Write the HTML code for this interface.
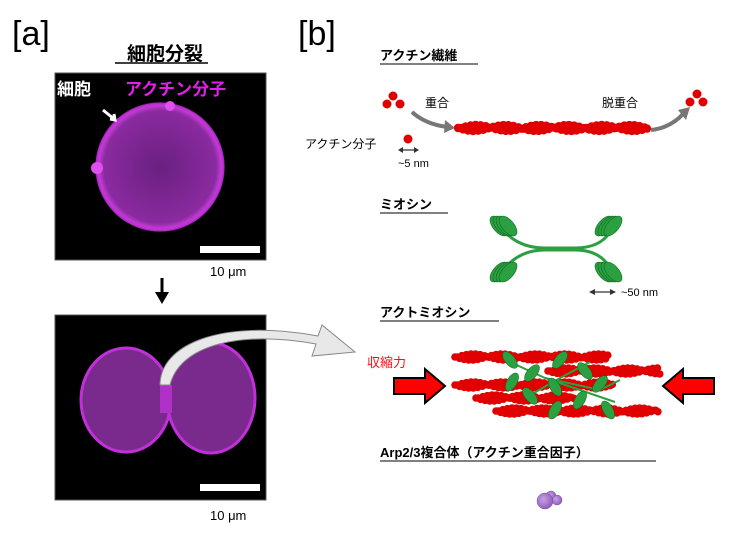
<!DOCTYPE html>
<html><head><meta charset="utf-8"><style>
html,body{margin:0;padding:0;background:#fff;width:750px;height:535px;overflow:hidden}
svg{display:block}
text{font-family:"Liberation Sans","Noto Sans CJK JP",sans-serif}
</style></head><body>
<svg id="s" width="750" height="535" viewBox="0 0 750 535" xmlns="http://www.w3.org/2000/svg">
<defs>
<radialGradient id="cell" cx="50%" cy="50%" r="50%">
<stop offset="0" stop-color="#6a2080"/><stop offset="0.85" stop-color="#8a2aa0"/><stop offset="0.95" stop-color="#d040e0"/><stop offset="1" stop-color="#000" stop-opacity="0"/>
</radialGradient>
<radialGradient id="pur" cx="40%" cy="40%" r="60%"><stop offset="0" stop-color="#c7a0e6"/><stop offset="1" stop-color="#9060b8"/></radialGradient>
</defs>
<text x="12" y="45" font-size="34">[a]</text>
<text x="298" y="45" font-size="34">[b]</text>
<text x="165" y="60" font-size="19" font-weight="bold" text-anchor="middle">細胞分裂</text>
<line x1="115" y1="63" x2="208" y2="63" stroke="#000" stroke-width="1.5"/>
<rect x="55" y="73" width="211" height="187" fill="#000" stroke="#555"/>
<circle cx="160" cy="167" r="66" fill="url(#cell)"/>
<circle cx="160" cy="167" r="63" fill="none" stroke="#c030d8" stroke-width="3" opacity="0.8"/>
<circle cx="170" cy="106" r="5" fill="#e050f0"/><circle cx="97" cy="168" r="6" fill="#e050f0"/>
<text x="57" y="95" font-size="17" font-weight="bold" fill="#fff">細胞</text>
<text x="125" y="95" font-size="17" font-weight="bold" fill="#e020e8">アクチン分子</text>
<path d="M103 110 L114 119 M110 119 L115 120 L114 114" stroke="#fff" stroke-width="3" fill="#fff"/>
<rect x="200" y="246" width="60" height="7" fill="#fff"/>
<text x="210" y="276" font-size="13">10 μm</text>
<line x1="162" y1="278" x2="162" y2="294" stroke="#000" stroke-width="3"/>
<polygon points="155,292 169,292 162,304" fill="#000"/>
<rect x="55" y="315" width="211" height="185" fill="#000" stroke="#555"/>
<ellipse cx="126" cy="400" rx="45" ry="52" fill="#7a2a8c" stroke="#c030d8" stroke-width="3"/>
<ellipse cx="211" cy="398" rx="44" ry="55" fill="#7a2a8c" stroke="#c030d8" stroke-width="3"/>
<rect x="160" y="385" width="12" height="28" fill="#b030c8"/>
<rect x="200" y="484" width="60" height="7" fill="#fff"/>
<text x="210" y="520" font-size="13">10 μm</text>
<path d="M160 385 C160 345 220 318 318 336 L322 325 L355 352 L312 356 L316 344 C240 330 180 345 170 385 Z" fill="#e8e8e8" stroke="#888" stroke-width="1"/>
<text x="380" y="60" font-size="13" font-weight="bold">アクチン繊維</text>
<line x1="380" y1="64" x2="478" y2="64" stroke="#000"/>
<g id="reds" fill="#e00000"></g>
<text x="425" y="107" font-size="12">重合</text>
<path d="M412 112 Q425 124 447 127" stroke="#777" stroke-width="4" fill="none"/>
<polygon points="445,120 455,128 444,133" fill="#777"/>
<text x="602" y="107" font-size="12">脱重合</text>
<path d="M651 130 Q670 128 683 114" stroke="#777" stroke-width="4" fill="none"/>
<polygon points="678,110 690,107 686,120" fill="#777"/>
<text x="305" y="148" font-size="12">アクチン分子</text>
<text x="398" y="167" font-size="11">~5 nm</text>
<path d="M400 150 L417 150" stroke="#333" stroke-width="1.2"/>
<polygon points="398,150 403,147 403,153" fill="#333"/><polygon points="419,150 414,147 414,153" fill="#333"/>
<text x="380" y="209" font-size="13" font-weight="bold">ミオシン</text>
<line x1="380" y1="213" x2="448" y2="213" stroke="#000"/>
<g id="myo" fill="#2aa040" stroke="#0e6a20" stroke-width="0.6"></g>
<path d="M592 292 L612 292" stroke="#333" stroke-width="1.2"/>
<polygon points="589,292 595,289 595,295" fill="#333"/><polygon points="616,292 610,289 610,295" fill="#333"/>
<text x="621" y="296" font-size="11">~50 nm</text>
<text x="380" y="317" font-size="13" font-weight="bold">アクトミオシン</text>
<line x1="380" y1="321" x2="499" y2="321" stroke="#000"/>
<text x="367" y="367" font-size="13" fill="#ff1010">収縮力</text>
<polygon points="394,378 425,378 425,369 445,386 425,403 425,394 394,394" fill="#ff0000" stroke="#000" stroke-width="2"/>
<polygon points="714,378 683,378 683,369 663,386 683,403 683,394 714,394" fill="#ff0000" stroke="#000" stroke-width="2"/>
<g id="am"></g>
<text x="380" y="457" font-size="13" font-weight="bold">Arp2/3複合体（アクチン重合因子）</text>
<line x1="380" y1="461" x2="656" y2="461" stroke="#000"/>
<circle cx="551" cy="496" r="5" fill="url(#pur)" stroke="#7a4aa0" stroke-width="0.5"/>
<circle cx="557" cy="500" r="5" fill="url(#pur)" stroke="#7a4aa0" stroke-width="0.5"/>
<circle cx="545" cy="501" r="8" fill="url(#pur)" stroke="#7a4aa0" stroke-width="0.5"/>
</svg>
<script>
var NS="http://www.w3.org/2000/svg";
function c(g,x,y,r,f){var e=document.createElementNS(NS,"circle");e.setAttribute("cx",x);e.setAttribute("cy",y);e.setAttribute("r",r);if(f)e.setAttribute("fill",f);g.appendChild(e);}
var R=document.getElementById("reds");
[[387,104],[400,104],[393,96],[690,102],[703,102],[697,94],[408,139]].forEach(function(p){c(R,p[0],p[1],4.5);});
function fil(g,x1,x2,y,r){for(var x=x1;x<=x2;x+=r*1.2){var ph=Math.sin((x-x1)/10);c(g,x,y+ph*3,r,"#e00000");c(g,x+r*0.6,y-ph*3,r,"#e00000");}}
fil(R,458,645,128,4.2);
var M=document.getElementById("myo");
function el(g,x,y,rx,ry,a){var e=document.createElementNS(NS,"ellipse");e.setAttribute("cx",x);e.setAttribute("cy",y);e.setAttribute("rx",rx);e.setAttribute("ry",ry);e.setAttribute("transform","rotate("+a+" "+x+" "+y+")");g.appendChild(e);}
var p=document.createElementNS(NS,"path");p.setAttribute("d","M505 232 Q520 248 545 248 L575 248 Q600 248 610 232 M505 268 Q520 250 545 250 L575 250 Q600 250 610 268");p.setAttribute("stroke","#2aa040");p.setAttribute("stroke-width","3");p.setAttribute("fill","none");M.appendChild(p);
for(var i=0;i<4;i++){el(M,499+i*3,226,6,12,-40);el(M,604+i*3,226,6,12,40);el(M,499+i*3,272,6,12,40);el(M,604+i*3,272,6,12,-40);}
var A=document.getElementById("am");
fil(A,455,610,357,3.8);fil(A,548,660,371,3.8);fil(A,455,612,385,3.8);fil(A,476,575,398,3.8);fil(A,496,658,411,3.8);
var gp=document.createElementNS(NS,"path");gp.setAttribute("d","M510 362 L545 378 L580 390 L615 402 M590 362 L560 378 L525 398 M545 378 L600 390 L620 380");gp.setAttribute("stroke","#2aa040");gp.setAttribute("stroke-width","2");gp.setAttribute("fill","none");A.appendChild(gp);
var G=document.createElementNS(NS,"g");G.setAttribute("fill","#2aa040");G.setAttribute("stroke","#0e6a20");G.setAttribute("stroke-width","0.5");A.appendChild(G);
[[510,360,-40],[560,360,40],[532,373,40],[585,371,-40],[512,382,30],[555,387,-30],[600,384,40],[530,396,-40],[580,400,30],[608,410,-30],[555,410,30]].forEach(function(q){el(G,q[0],q[1],5,10,q[2]);});
</script>
</body></html>
